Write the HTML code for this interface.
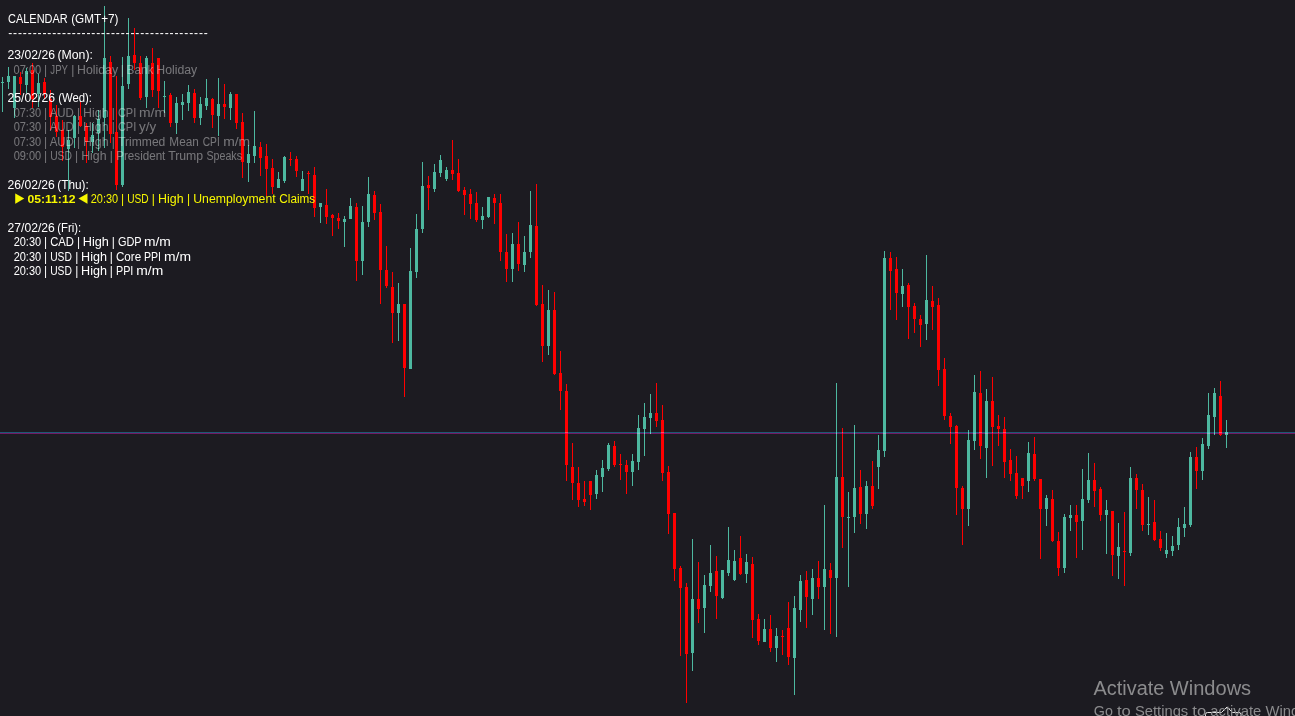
<!DOCTYPE html>
<html><head><meta charset="utf-8"><title>Chart</title>
<style>
html,body{margin:0;padding:0;background:#1c1b21;}
body{width:1295px;height:716px;overflow:hidden;position:relative;}
svg text{white-space:pre;}
</style></head><body>
<svg width="1295" height="716" viewBox="0 0 1295 716" style="position:absolute;left:0;top:0">
<path shape-rendering="crispEdges" fill="#4db8a0" d="M2 77h1V112h-1zM1 82h3V83h-3zM8 67h1V89h-1zM7 76h3V82h-3zM14 76h1V118h-1zM13 76h3V108h-3zM26 68h1V93h-1zM25 71h3V85h-3zM38 74h1V107h-1zM37 83h3V94h-3zM68 130h1V191h-1zM67 140h3V149h-3zM74 115h1V148h-1zM73 116h3V138h-3zM92 123h1V153h-1zM91 135h3V142h-3zM98 110h1V151h-1zM97 119h3V133h-3zM104 6h1V148h-1zM103 58h3V118h-3zM122 57h1V187h-1zM121 86h3V185h-3zM128 18h1V89h-1zM127 56h3V84h-3zM146 56h1V108h-1zM145 58h3V97h-3zM164 81h1V113h-1zM163 96h3V97h-3zM176 97h1V134h-1zM175 103h3V123h-3zM182 94h1V120h-1zM181 102h3V105h-3zM188 85h1V111h-1zM187 92h3V103h-3zM200 97h1V125h-1zM199 104h3V118h-3zM206 79h1V110h-1zM205 98h3V106h-3zM218 78h1V136h-1zM217 104h3V116h-3zM230 92h1V120h-1zM229 94h3V108h-3zM248 145h1V182h-1zM247 154h3V163h-3zM254 111h1V163h-1zM253 146h3V156h-3zM278 172h1V188h-1zM277 179h3V188h-3zM284 156h1V183h-1zM283 157h3V181h-3zM302 171h1V191h-1zM301 179h3V191h-3zM320 203h1V223h-1zM319 203h3V207h-3zM344 216h1V247h-1zM343 219h3V222h-3zM350 198h1V219h-1zM349 206h3V219h-3zM362 206h1V275h-1zM361 222h3V261h-3zM368 177h1V227h-1zM367 194h3V222h-3zM398 283h1V341h-1zM397 304h3V313h-3zM410 248h1V369h-1zM409 271h3V369h-3zM416 214h1V278h-1zM415 229h3V272h-3zM422 162h1V233h-1zM421 186h3V229h-3zM434 164h1V192h-1zM433 172h3V189h-3zM440 155h1V177h-1zM439 160h3V173h-3zM446 167h1V181h-1zM445 170h3V179h-3zM482 207h1V229h-1zM481 216h3V220h-3zM488 197h1V218h-1zM487 197h3V217h-3zM512 233h1V282h-1zM511 244h3V269h-3zM524 236h1V272h-1zM523 252h3V265h-3zM530 191h1V258h-1zM529 225h3V252h-3zM548 290h1V355h-1zM547 310h3V346h-3zM596 470h1V499h-1zM595 475h3V494h-3zM602 460h1V492h-1zM601 468h3V477h-3zM608 443h1V471h-1zM607 445h3V469h-3zM632 454h1V486h-1zM631 461h3V472h-3zM638 415h1V470h-1zM637 428h3V462h-3zM644 403h1V456h-1zM643 417h3V429h-3zM650 394h1V434h-1zM649 413h3V418h-3zM692 539h1V671h-1zM691 599h3V653h-3zM704 575h1V633h-1zM703 585h3V608h-3zM710 545h1V592h-1zM709 573h3V586h-3zM722 570h1V599h-1zM721 570h3V598h-3zM728 527h1V576h-1zM727 560h3V573h-3zM734 550h1V581h-1zM733 561h3V580h-3zM746 554h1V583h-1zM745 562h3V574h-3zM764 619h1V642h-1zM763 629h3V642h-3zM776 628h1V662h-1zM775 636h3V648h-3zM794 596h1V695h-1zM793 608h3V658h-3zM800 575h1V622h-1zM799 581h3V610h-3zM812 569h1V615h-1zM811 578h3V599h-3zM824 505h1V630h-1zM823 569h3V587h-3zM836 383h1V637h-1zM835 477h3V578h-3zM848 492h1V587h-1zM847 517h3V518h-3zM854 425h1V533h-1zM853 488h3V517h-3zM866 481h1V529h-1zM865 486h3V514h-3zM878 435h1V489h-1zM877 450h3V467h-3zM884 251h1V457h-1zM883 258h3V451h-3zM902 269h1V307h-1zM901 286h3V294h-3zM926 255h1V340h-1zM925 300h3V324h-3zM968 430h1V526h-1zM967 440h3V509h-3zM974 375h1V450h-1zM973 392h3V441h-3zM986 389h1V478h-1zM985 401h3V448h-3zM1028 442h1V492h-1zM1027 453h3V481h-3zM1046 495h1V526h-1zM1045 498h3V509h-3zM1064 514h1V573h-1zM1063 517h3V568h-3zM1070 505h1V531h-1zM1069 515h3V518h-3zM1082 469h1V550h-1zM1081 499h3V521h-3zM1088 453h1V503h-1zM1087 480h3V500h-3zM1106 500h1V554h-1zM1105 510h3V515h-3zM1118 523h1V579h-1zM1117 547h3V556h-3zM1130 467h1V556h-1zM1129 478h3V553h-3zM1148 497h1V535h-1zM1147 524h3V525h-3zM1166 533h1V558h-1zM1165 550h3V554h-3zM1172 536h1V556h-1zM1171 546h3V551h-3zM1178 518h1V550h-1zM1177 527h3V545h-3zM1184 507h1V537h-1zM1183 524h3V528h-3zM1190 452h1V527h-1zM1189 457h3V525h-3zM1202 438h1V480h-1zM1201 444h3V471h-3zM1208 393h1V449h-1zM1207 415h3V446h-3zM1214 388h1V435h-1zM1213 393h3V417h-3zM1226 420h1V448h-1zM1225 432h3V435h-3z"/>
<path shape-rendering="crispEdges" fill="#ff0000" d="M20 72h1V95h-1zM19 77h3V84h-3zM32 63h1V108h-1zM31 70h3V99h-3zM44 78h1V99h-1zM43 82h3V94h-3zM50 90h1V130h-1zM49 99h3V117h-3zM56 105h1V137h-1zM55 116h3V132h-3zM62 120h1V161h-1zM61 130h3V147h-3zM80 102h1V127h-1zM79 116h3V126h-3zM86 123h1V163h-1zM85 126h3V142h-3zM110 56h1V143h-1zM109 62h3V134h-3zM116 76h1V190h-1zM115 132h3V185h-3zM134 28h1V70h-1zM133 55h3V63h-3zM140 56h1V100h-1zM139 63h3V98h-3zM152 48h1V97h-1zM151 63h3V90h-3zM158 58h1V108h-1zM157 58h3V91h-3zM170 93h1V127h-1zM169 95h3V123h-3zM194 89h1V123h-1zM193 93h3V118h-3zM212 98h1V128h-1zM211 99h3V115h-3zM224 84h1V119h-1zM223 104h3V107h-3zM236 94h1V129h-1zM235 94h3V123h-3zM242 113h1V178h-1zM241 122h3V162h-3zM260 142h1V176h-1zM259 147h3V158h-3zM266 144h1V196h-1zM265 156h3V169h-3zM272 159h1V194h-1zM271 168h3V187h-3zM290 152h1V166h-1zM289 159h3V160h-3zM296 156h1V177h-1zM295 159h3V171h-3zM308 171h1V194h-1zM307 173h3V174h-3zM314 167h1V217h-1zM313 175h3V208h-3zM326 189h1V224h-1zM325 205h3V217h-3zM332 214h1V236h-1zM331 215h3V218h-3zM338 213h1V229h-1zM337 218h3V221h-3zM356 203h1V281h-1zM355 207h3V261h-3zM374 191h1V220h-1zM373 195h3V213h-3zM380 204h1V304h-1zM379 212h3V270h-3zM386 246h1V288h-1zM385 270h3V286h-3zM392 272h1V343h-1zM391 287h3V313h-3zM404 304h1V397h-1zM403 304h3V368h-3zM428 176h1V210h-1zM427 185h3V188h-3zM452 140h1V180h-1zM451 170h3V174h-3zM458 159h1V192h-1zM457 173h3V191h-3zM464 187h1V215h-1zM463 190h3V195h-3zM470 189h1V219h-1zM469 194h3V204h-3zM476 192h1V222h-1zM475 203h3V220h-3zM494 194h1V224h-1zM493 198h3V203h-3zM500 194h1V261h-1zM499 203h3V252h-3zM506 234h1V282h-1zM505 252h3V269h-3zM518 222h1V271h-1zM517 244h3V264h-3zM536 184h1V306h-1zM535 226h3V305h-3zM542 285h1V362h-1zM541 304h3V346h-3zM554 292h1V375h-1zM553 310h3V374h-3zM560 351h1V410h-1zM559 373h3V391h-3zM566 384h1V481h-1zM565 391h3V465h-3zM572 443h1V500h-1zM571 467h3V483h-3zM578 467h1V507h-1zM577 483h3V500h-3zM584 481h1V506h-1zM583 499h3V502h-3zM590 481h1V510h-1zM589 481h3V495h-3zM614 441h1V467h-1zM613 446h3V465h-3zM620 454h1V480h-1zM619 464h3V465h-3zM626 460h1V494h-1zM625 465h3V472h-3zM656 383h1V427h-1zM655 413h3V421h-3zM662 405h1V481h-1zM661 420h3V473h-3zM668 466h1V534h-1zM667 472h3V514h-3zM674 513h1V581h-1zM673 513h3V569h-3zM680 566h1V656h-1zM679 568h3V588h-3zM686 583h1V703h-1zM685 587h3V654h-3zM698 562h1V623h-1zM697 599h3V609h-3zM716 556h1V619h-1zM715 571h3V596h-3zM740 536h1V575h-1zM739 558h3V574h-3zM752 557h1V638h-1zM751 564h3V620h-3zM758 614h1V645h-1zM757 619h3V641h-3zM770 615h1V652h-1zM769 629h3V648h-3zM782 630h1V655h-1zM781 636h3V637h-3zM788 602h1V665h-1zM787 628h3V657h-3zM806 571h1V628h-1zM805 580h3V597h-3zM818 561h1V599h-1zM817 578h3V587h-3zM830 563h1V634h-1zM829 570h3V578h-3zM842 428h1V548h-1zM841 477h3V517h-3zM860 470h1V524h-1zM859 487h3V514h-3zM872 461h1V509h-1zM871 486h3V506h-3zM890 252h1V310h-1zM889 258h3V271h-3zM896 257h1V320h-1zM895 269h3V293h-3zM908 283h1V339h-1zM907 285h3V307h-3zM914 303h1V333h-1zM913 306h3V319h-3zM920 315h1V347h-1zM919 319h3V325h-3zM932 286h1V330h-1zM931 301h3V307h-3zM938 298h1V386h-1zM937 305h3V370h-3zM944 358h1V420h-1zM943 369h3V416h-3zM950 413h1V444h-1zM949 416h3V427h-3zM956 425h1V515h-1zM955 426h3V488h-3zM962 486h1V545h-1zM961 488h3V509h-3zM980 371h1V459h-1zM979 393h3V446h-3zM992 377h1V466h-1zM991 401h3V427h-3zM998 415h1V446h-1zM997 426h3V429h-3zM1004 417h1V478h-1zM1003 429h3V462h-3zM1010 449h1V481h-1zM1009 460h3V474h-3zM1016 456h1V499h-1zM1015 473h3V496h-3zM1022 478h1V499h-1zM1021 478h3V486h-3zM1034 437h1V481h-1zM1033 454h3V479h-3zM1040 479h1V559h-1zM1039 479h3V509h-3zM1052 490h1V542h-1zM1051 499h3V541h-3zM1058 532h1V576h-1zM1057 541h3V568h-3zM1076 505h1V558h-1zM1075 515h3V522h-3zM1094 463h1V507h-1zM1093 480h3V491h-3zM1100 487h1V521h-1zM1099 489h3V515h-3zM1112 511h1V576h-1zM1111 511h3V555h-3zM1124 512h1V586h-1zM1123 551h3V552h-3zM1136 474h1V509h-1zM1135 478h3V490h-3zM1142 484h1V531h-1zM1141 490h3V525h-3zM1154 500h1V541h-1zM1153 522h3V540h-3zM1160 531h1V551h-1zM1159 539h3V548h-3zM1196 447h1V489h-1zM1195 457h3V471h-3zM1220 381h1V436h-1zM1219 396h3V435h-3z"/>
<rect x="0" y="432" width="1295" height="1" fill="#00465f" style="mix-blend-mode:screen"/>
<rect x="0" y="433" width="1295" height="1" fill="#5f004e" style="mix-blend-mode:screen"/>
<g font-family="'Liberation Sans', 'DejaVu Sans', sans-serif">
<text y="22.9" fill="#ffffff" font-size="12"><tspan x="8.05" textLength="59.70" lengthAdjust="spacingAndGlyphs">CALENDAR</tspan> <tspan x="71.15" textLength="47.40" lengthAdjust="spacingAndGlyphs">(GMT+7)</tspan></text>
<text y="59.2" fill="#ffffff" font-size="12"><tspan x="7.55" textLength="47.40" lengthAdjust="spacingAndGlyphs">23/02/26</tspan> <tspan x="57.45" textLength="35.50" lengthAdjust="spacingAndGlyphs">(Mon):</tspan></text>
<text y="73.6" fill="rgba(255,255,255,0.40)" font-size="12"><tspan x="13.55" textLength="27.70" lengthAdjust="spacingAndGlyphs">07:00</tspan> <tspan x="43.95" textLength="3.10" lengthAdjust="spacingAndGlyphs">|</tspan> <tspan x="50.35" textLength="17.40" lengthAdjust="spacingAndGlyphs">JPY</tspan> <tspan x="71.25" textLength="3.10" lengthAdjust="spacingAndGlyphs">|</tspan> <tspan x="77.05" textLength="41.00" lengthAdjust="spacingAndGlyphs">Holiday</tspan> <tspan x="120.85" textLength="3.10" lengthAdjust="spacingAndGlyphs">|</tspan> <tspan x="126.55" textLength="26.80" lengthAdjust="spacingAndGlyphs">Bank</tspan> <tspan x="156.35" textLength="40.90" lengthAdjust="spacingAndGlyphs">Holiday</tspan></text>
<text y="102.4" fill="#ffffff" font-size="12"><tspan x="7.55" textLength="47.40" lengthAdjust="spacingAndGlyphs">25/02/26</tspan> <tspan x="58.15" textLength="33.80" lengthAdjust="spacingAndGlyphs">(Wed):</tspan></text>
<text y="116.8" fill="rgba(255,255,255,0.40)" font-size="12"><tspan x="13.65" textLength="27.50" lengthAdjust="spacingAndGlyphs">07:30</tspan> <tspan x="43.95" textLength="3.10" lengthAdjust="spacingAndGlyphs">|</tspan> <tspan x="49.65" textLength="24.20" lengthAdjust="spacingAndGlyphs">AUD</tspan> <tspan x="76.95" textLength="3.10" lengthAdjust="spacingAndGlyphs">|</tspan> <tspan x="83.05" textLength="25.60" lengthAdjust="spacingAndGlyphs">High</tspan> <tspan x="111.75" textLength="3.10" lengthAdjust="spacingAndGlyphs">|</tspan> <tspan x="117.95" textLength="18.30" lengthAdjust="spacingAndGlyphs">CPI</tspan> <tspan x="139.05" textLength="27.00" lengthAdjust="spacingAndGlyphs">m/m</tspan></text>
<text y="131.2" fill="rgba(255,255,255,0.40)" font-size="12"><tspan x="13.65" textLength="27.50" lengthAdjust="spacingAndGlyphs">07:30</tspan> <tspan x="43.95" textLength="3.10" lengthAdjust="spacingAndGlyphs">|</tspan> <tspan x="49.65" textLength="24.20" lengthAdjust="spacingAndGlyphs">AUD</tspan> <tspan x="76.95" textLength="3.10" lengthAdjust="spacingAndGlyphs">|</tspan> <tspan x="83.05" textLength="25.60" lengthAdjust="spacingAndGlyphs">High</tspan> <tspan x="111.75" textLength="3.10" lengthAdjust="spacingAndGlyphs">|</tspan> <tspan x="117.95" textLength="18.30" lengthAdjust="spacingAndGlyphs">CPI</tspan> <tspan x="139.05" textLength="17.10" lengthAdjust="spacingAndGlyphs">y/y</tspan></text>
<text y="145.6" fill="rgba(255,255,255,0.40)" font-size="12"><tspan x="13.65" textLength="27.50" lengthAdjust="spacingAndGlyphs">07:30</tspan> <tspan x="43.95" textLength="3.10" lengthAdjust="spacingAndGlyphs">|</tspan> <tspan x="49.65" textLength="24.20" lengthAdjust="spacingAndGlyphs">AUD</tspan> <tspan x="76.95" textLength="3.10" lengthAdjust="spacingAndGlyphs">|</tspan> <tspan x="83.05" textLength="25.60" lengthAdjust="spacingAndGlyphs">High</tspan> <tspan x="111.75" textLength="3.10" lengthAdjust="spacingAndGlyphs">|</tspan> <tspan x="118.15" textLength="47.20" lengthAdjust="spacingAndGlyphs">Trimmed</tspan> <tspan x="169.35" textLength="29.40" lengthAdjust="spacingAndGlyphs">Mean</tspan> <tspan x="202.75" textLength="17.00" lengthAdjust="spacingAndGlyphs">CPI</tspan> <tspan x="223.15" textLength="27.00" lengthAdjust="spacingAndGlyphs">m/m</tspan></text>
<text y="160.0" fill="rgba(255,255,255,0.40)" font-size="12"><tspan x="13.65" textLength="27.50" lengthAdjust="spacingAndGlyphs">09:00</tspan> <tspan x="43.95" textLength="3.10" lengthAdjust="spacingAndGlyphs">|</tspan> <tspan x="50.15" textLength="21.80" lengthAdjust="spacingAndGlyphs">USD</tspan> <tspan x="75.05" textLength="3.10" lengthAdjust="spacingAndGlyphs">|</tspan> <tspan x="81.15" textLength="25.40" lengthAdjust="spacingAndGlyphs">High</tspan> <tspan x="109.85" textLength="3.10" lengthAdjust="spacingAndGlyphs">|</tspan> <tspan x="116.25" textLength="49.10" lengthAdjust="spacingAndGlyphs">President</tspan> <tspan x="168.15" textLength="34.90" lengthAdjust="spacingAndGlyphs">Trump</tspan> <tspan x="206.45" textLength="35.60" lengthAdjust="spacingAndGlyphs">Speaks</tspan></text>
<text y="188.8" fill="#ffffff" font-size="12"><tspan x="7.55" textLength="47.30" lengthAdjust="spacingAndGlyphs">26/02/26</tspan> <tspan x="57.35" textLength="31.40" lengthAdjust="spacingAndGlyphs">(Thu):</tspan></text>
<text y="232.0" fill="#ffffff" font-size="12"><tspan x="7.55" textLength="47.30" lengthAdjust="spacingAndGlyphs">27/02/26</tspan> <tspan x="57.35" textLength="23.80" lengthAdjust="spacingAndGlyphs">(Fri):</tspan></text>
<text y="246.4" fill="#ffffff" font-size="12"><tspan x="13.65" textLength="27.50" lengthAdjust="spacingAndGlyphs">20:30</tspan> <tspan x="43.95" textLength="3.10" lengthAdjust="spacingAndGlyphs">|</tspan> <tspan x="50.15" textLength="23.70" lengthAdjust="spacingAndGlyphs">CAD</tspan> <tspan x="76.95" textLength="3.10" lengthAdjust="spacingAndGlyphs">|</tspan> <tspan x="82.75" textLength="26.20" lengthAdjust="spacingAndGlyphs">High</tspan> <tspan x="111.75" textLength="3.10" lengthAdjust="spacingAndGlyphs">|</tspan> <tspan x="117.95" textLength="23.50" lengthAdjust="spacingAndGlyphs">GDP</tspan> <tspan x="143.95" textLength="26.90" lengthAdjust="spacingAndGlyphs">m/m</tspan></text>
<text y="260.8" fill="#ffffff" font-size="12"><tspan x="13.65" textLength="27.50" lengthAdjust="spacingAndGlyphs">20:30</tspan> <tspan x="43.95" textLength="3.10" lengthAdjust="spacingAndGlyphs">|</tspan> <tspan x="50.15" textLength="21.70" lengthAdjust="spacingAndGlyphs">USD</tspan> <tspan x="75.15" textLength="3.10" lengthAdjust="spacingAndGlyphs">|</tspan> <tspan x="81.05" textLength="25.90" lengthAdjust="spacingAndGlyphs">High</tspan> <tspan x="109.75" textLength="3.10" lengthAdjust="spacingAndGlyphs">|</tspan> <tspan x="115.95" textLength="25.20" lengthAdjust="spacingAndGlyphs">Core</tspan> <tspan x="143.95" textLength="17.00" lengthAdjust="spacingAndGlyphs">PPI</tspan> <tspan x="164.05" textLength="27.00" lengthAdjust="spacingAndGlyphs">m/m</tspan></text>
<text y="275.2" fill="#ffffff" font-size="12"><tspan x="13.65" textLength="27.50" lengthAdjust="spacingAndGlyphs">20:30</tspan> <tspan x="43.95" textLength="3.10" lengthAdjust="spacingAndGlyphs">|</tspan> <tspan x="50.15" textLength="21.70" lengthAdjust="spacingAndGlyphs">USD</tspan> <tspan x="75.15" textLength="3.10" lengthAdjust="spacingAndGlyphs">|</tspan> <tspan x="81.05" textLength="25.90" lengthAdjust="spacingAndGlyphs">High</tspan> <tspan x="109.75" textLength="3.10" lengthAdjust="spacingAndGlyphs">|</tspan> <tspan x="115.95" textLength="17.40" lengthAdjust="spacingAndGlyphs">PPI</tspan> <tspan x="136.35" textLength="26.90" lengthAdjust="spacingAndGlyphs">m/m</tspan></text>
<text x="8.2" y="37.3" textLength="199.6" lengthAdjust="spacing" fill="#ffffff" font-size="12">-----------------------------------------</text>
<text y="203.2" fill="#f8f800" font-size="12"><tspan x="15.3" textLength="9.0" lengthAdjust="spacingAndGlyphs" font-size="13.2" dy="-0.9">▶</tspan> <tspan x="27.4" textLength="48.1" lengthAdjust="spacingAndGlyphs" font-weight="700" font-size="11.6" dy="0.9">05:11:12</tspan> <tspan x="78.6" textLength="9.0" lengthAdjust="spacingAndGlyphs" font-size="13.2" dy="-0.9">◀</tspan> <tspan x="90.75" dy="0.9" textLength="27.40" lengthAdjust="spacingAndGlyphs">20:30</tspan> <tspan x="120.95" textLength="3.10" lengthAdjust="spacingAndGlyphs">|</tspan> <tspan x="127.15" textLength="21.50" lengthAdjust="spacingAndGlyphs">USD</tspan> <tspan x="151.75" textLength="3.10" lengthAdjust="spacingAndGlyphs">|</tspan> <tspan x="158.05" textLength="25.60" lengthAdjust="spacingAndGlyphs">High</tspan> <tspan x="187.05" textLength="3.10" lengthAdjust="spacingAndGlyphs">|</tspan> <tspan x="193.25" textLength="82.40" lengthAdjust="spacingAndGlyphs">Unemployment</tspan> <tspan x="279.35" textLength="35.80" lengthAdjust="spacingAndGlyphs">Claims</tspan> </text>
</g>
<path d="M1205.5 716V714.5Q1205.5 712.5 1207.5 712.5H1221.5L1227 707L1232.5 712.5H1239Q1241 712.5 1241 714.5V716" fill="none" stroke="#e6e6e6" stroke-width="1"/>
<g font-family="'Liberation Sans', sans-serif">
<text y="695.2" fill="#8b8b8d" font-size="20"><tspan x="1093.60" textLength="70.75" lengthAdjust="spacingAndGlyphs">Activate</tspan> <tspan x="1169.83" textLength="81.31" lengthAdjust="spacingAndGlyphs">Windows</tspan></text>
<text y="716.3" fill="#8b8b8d" font-size="15"><tspan x="1093.80" textLength="19.08" lengthAdjust="spacingAndGlyphs">Go</tspan> <tspan x="1116.99" textLength="13.87" lengthAdjust="spacingAndGlyphs">to</tspan> <tspan x="1134.97" textLength="53.28" lengthAdjust="spacingAndGlyphs">Settings</tspan> <tspan x="1192.35" textLength="13.87" lengthAdjust="spacingAndGlyphs">to</tspan> <tspan x="1210.34" textLength="51.02" lengthAdjust="spacingAndGlyphs">activate</tspan> <tspan x="1265.47" textLength="64.23" lengthAdjust="spacingAndGlyphs">Windows.</tspan></text>
</g>
</svg>
</body></html>
